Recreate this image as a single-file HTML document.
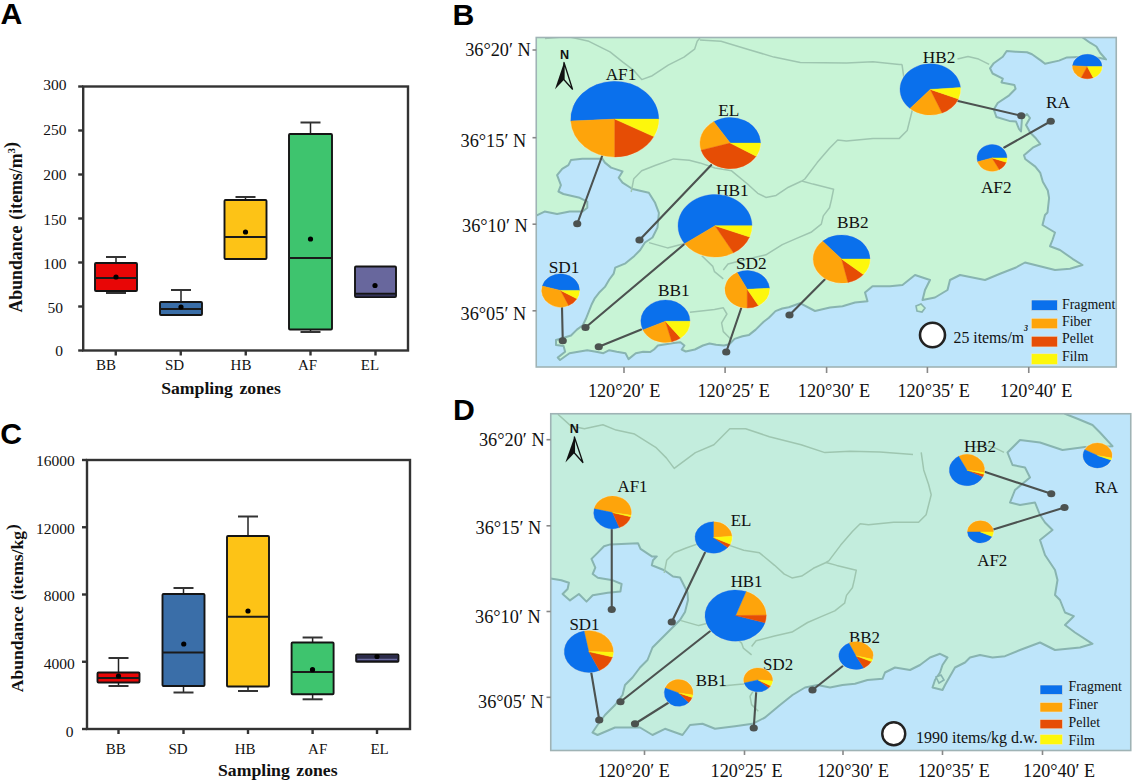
<!DOCTYPE html>
<html><head><meta charset="utf-8"><style>
html,body{margin:0;padding:0;background:#fff;}
svg{display:block;}
</style></head><body>
<svg width="1135" height="780" viewBox="0 0 1135 780">
<rect width="1135" height="780" fill="#fff"/>
<rect x="83.20" y="86.50" width="324.80" height="264.00" fill="none" stroke="#333" stroke-width="2.4" />
<line x1="78.20" y1="350.50" x2="83.20" y2="350.50" stroke="#333" stroke-width="2.4" />
<text x="62.90" y="356.20" font-family='"Liberation Serif", serif' font-size="15.5" font-weight="normal" text-anchor="end" fill="#111" >0</text>
<line x1="78.20" y1="306.50" x2="83.20" y2="306.50" stroke="#333" stroke-width="2.4" />
<text x="63.00" y="312.80" font-family='"Liberation Serif", serif' font-size="15.5" font-weight="normal" text-anchor="end" fill="#111" >50</text>
<line x1="78.20" y1="262.50" x2="83.20" y2="262.50" stroke="#333" stroke-width="2.4" />
<text x="66.40" y="268.60" font-family='"Liberation Serif", serif' font-size="15.5" font-weight="normal" text-anchor="end" fill="#111" >100</text>
<line x1="78.20" y1="218.50" x2="83.20" y2="218.50" stroke="#333" stroke-width="2.4" />
<text x="66.40" y="224.60" font-family='"Liberation Serif", serif' font-size="15.5" font-weight="normal" text-anchor="end" fill="#111" >150</text>
<line x1="78.20" y1="174.50" x2="83.20" y2="174.50" stroke="#333" stroke-width="2.4" />
<text x="66.40" y="179.80" font-family='"Liberation Serif", serif' font-size="15.5" font-weight="normal" text-anchor="end" fill="#111" >200</text>
<line x1="78.20" y1="130.50" x2="83.20" y2="130.50" stroke="#333" stroke-width="2.4" />
<text x="66.40" y="134.90" font-family='"Liberation Serif", serif' font-size="15.5" font-weight="normal" text-anchor="end" fill="#111" >250</text>
<line x1="78.20" y1="86.50" x2="83.20" y2="86.50" stroke="#333" stroke-width="2.4" />
<text x="66.40" y="89.90" font-family='"Liberation Serif", serif' font-size="15.5" font-weight="normal" text-anchor="end" fill="#111" >300</text>
<line x1="115.75" y1="350.50" x2="115.75" y2="355.50" stroke="#333" stroke-width="2.4" />
<line x1="180.75" y1="350.50" x2="180.75" y2="355.50" stroke="#333" stroke-width="2.4" />
<line x1="245.75" y1="350.50" x2="245.75" y2="355.50" stroke="#333" stroke-width="2.4" />
<line x1="310.50" y1="350.50" x2="310.50" y2="355.50" stroke="#333" stroke-width="2.4" />
<line x1="375.50" y1="350.50" x2="375.50" y2="355.50" stroke="#333" stroke-width="2.4" />
<text x="106.00" y="370.20" font-family='"Liberation Serif", serif' font-size="15" font-weight="normal" text-anchor="middle" fill="#111" >BB</text>
<text x="174.50" y="370.20" font-family='"Liberation Serif", serif' font-size="15" font-weight="normal" text-anchor="middle" fill="#111" >SD</text>
<text x="241.00" y="370.20" font-family='"Liberation Serif", serif' font-size="15" font-weight="normal" text-anchor="middle" fill="#111" >HB</text>
<text x="307.50" y="370.20" font-family='"Liberation Serif", serif' font-size="15" font-weight="normal" text-anchor="middle" fill="#111" >AF</text>
<text x="370.00" y="370.20" font-family='"Liberation Serif", serif' font-size="15" font-weight="normal" text-anchor="middle" fill="#111" >EL</text>
<line x1="116.00" y1="257.00" x2="116.00" y2="263.00" stroke="#222" stroke-width="1.5" />
<line x1="106.00" y1="257.00" x2="126.00" y2="257.00" stroke="#333" stroke-width="2" />
<line x1="116.00" y1="291.00" x2="116.00" y2="293.00" stroke="#222" stroke-width="1.5" />
<line x1="106.00" y1="293.00" x2="126.00" y2="293.00" stroke="#333" stroke-width="2" />
<rect x="95.00" y="263.00" width="42.00" height="28.00" fill="#e80606" stroke="#141414" stroke-width="1.9" rx="1"/>
<line x1="95.00" y1="278.00" x2="137.00" y2="278.00" stroke="#1a1a1a" stroke-width="2" />
<circle cx="116.00" cy="277.00" r="2.6" fill="#000"/>
<line x1="181.00" y1="290.00" x2="181.00" y2="302.00" stroke="#222" stroke-width="1.5" />
<line x1="171.00" y1="290.00" x2="191.00" y2="290.00" stroke="#333" stroke-width="2" />
<rect x="160.00" y="302.00" width="42.00" height="13.00" fill="#3a6ea8" stroke="#141414" stroke-width="1.9" rx="1"/>
<line x1="160.00" y1="309.00" x2="202.00" y2="309.00" stroke="#1a1a1a" stroke-width="2" />
<circle cx="181.00" cy="307.00" r="2.6" fill="#000"/>
<line x1="245.50" y1="197.00" x2="245.50" y2="200.00" stroke="#222" stroke-width="1.5" />
<line x1="235.50" y1="197.00" x2="255.50" y2="197.00" stroke="#333" stroke-width="2" />
<rect x="224.50" y="200.00" width="42.00" height="59.00" fill="#fdc316" stroke="#141414" stroke-width="1.9" rx="1"/>
<line x1="224.50" y1="237.00" x2="266.50" y2="237.00" stroke="#1a1a1a" stroke-width="2" />
<circle cx="245.50" cy="232.00" r="2.6" fill="#000"/>
<line x1="310.50" y1="122.50" x2="310.50" y2="134.00" stroke="#222" stroke-width="1.5" />
<line x1="300.50" y1="122.50" x2="320.50" y2="122.50" stroke="#333" stroke-width="2" />
<line x1="310.50" y1="329.50" x2="310.50" y2="332.00" stroke="#222" stroke-width="1.5" />
<line x1="300.50" y1="332.00" x2="320.50" y2="332.00" stroke="#333" stroke-width="2" />
<rect x="289.00" y="134.00" width="43.00" height="195.50" fill="#3ec46e" stroke="#141414" stroke-width="1.9" rx="1"/>
<line x1="289.00" y1="258.00" x2="332.00" y2="258.00" stroke="#1a1a1a" stroke-width="2" />
<circle cx="310.50" cy="239.00" r="2.6" fill="#000"/>
<rect x="355.00" y="266.50" width="41.00" height="30.50" fill="#68679d" stroke="#141414" stroke-width="1.9" rx="1"/>
<circle cx="375.00" cy="285.50" r="2.6" fill="#000"/>
<rect x="355.80" y="293.20" width="39.40" height="3.20" fill="#34345a" stroke="none" stroke-width="1" />
<line x1="355.00" y1="293.60" x2="396.00" y2="293.60" stroke="#141414" stroke-width="1.6" />
<text x="161.2" y="394" font-family='"Liberation Serif", serif' font-size="17.7" font-weight="bold" fill="#111">Sampling</text>
<text x="239.5" y="394" font-family='"Liberation Serif", serif' font-size="17.7" font-weight="bold" fill="#111">zones</text>
<text transform="translate(22.3,312.6) rotate(-90)" font-family='"Liberation Serif", serif' font-size="17.8" font-weight="bold" fill="#111">Abundance<tspan dx="6">(items/m</tspan><tspan font-size="11" dy="-7">3</tspan><tspan dy="1.5">)</tspan></text>
<rect x="87.00" y="460.00" width="323.00" height="269.00" fill="none" stroke="#333" stroke-width="2.4" />
<line x1="82.00" y1="729.00" x2="87.00" y2="729.00" stroke="#333" stroke-width="2.4" />
<text x="73.50" y="736.80" font-family='"Liberation Serif", serif' font-size="15.5" font-weight="normal" text-anchor="end" fill="#111" >0</text>
<line x1="82.00" y1="661.75" x2="87.00" y2="661.75" stroke="#333" stroke-width="2.4" />
<text x="74.80" y="669.10" font-family='"Liberation Serif", serif' font-size="15.5" font-weight="normal" text-anchor="end" fill="#111" >4000</text>
<line x1="82.00" y1="594.50" x2="87.00" y2="594.50" stroke="#333" stroke-width="2.4" />
<text x="74.80" y="601.40" font-family='"Liberation Serif", serif' font-size="15.5" font-weight="normal" text-anchor="end" fill="#111" >8000</text>
<line x1="82.00" y1="527.25" x2="87.00" y2="527.25" stroke="#333" stroke-width="2.4" />
<text x="74.80" y="533.70" font-family='"Liberation Serif", serif' font-size="15.5" font-weight="normal" text-anchor="end" fill="#111" >12000</text>
<line x1="82.00" y1="460.00" x2="87.00" y2="460.00" stroke="#333" stroke-width="2.4" />
<text x="74.80" y="466.00" font-family='"Liberation Serif", serif' font-size="15.5" font-weight="normal" text-anchor="end" fill="#111" >16000</text>
<line x1="118.50" y1="729.00" x2="118.50" y2="734.00" stroke="#333" stroke-width="2.4" />
<line x1="183.50" y1="729.00" x2="183.50" y2="734.00" stroke="#333" stroke-width="2.4" />
<line x1="248.00" y1="729.00" x2="248.00" y2="734.00" stroke="#333" stroke-width="2.4" />
<line x1="312.60" y1="729.00" x2="312.60" y2="734.00" stroke="#333" stroke-width="2.4" />
<line x1="377.00" y1="729.00" x2="377.00" y2="734.00" stroke="#333" stroke-width="2.4" />
<text x="115.75" y="754.20" font-family='"Liberation Serif", serif' font-size="15" font-weight="normal" text-anchor="middle" fill="#111" >BB</text>
<text x="178.00" y="754.20" font-family='"Liberation Serif", serif' font-size="15" font-weight="normal" text-anchor="middle" fill="#111" >SD</text>
<text x="245.20" y="754.20" font-family='"Liberation Serif", serif' font-size="15" font-weight="normal" text-anchor="middle" fill="#111" >HB</text>
<text x="317.70" y="754.20" font-family='"Liberation Serif", serif' font-size="15" font-weight="normal" text-anchor="middle" fill="#111" >AF</text>
<text x="379.60" y="754.20" font-family='"Liberation Serif", serif' font-size="15" font-weight="normal" text-anchor="middle" fill="#111" >EL</text>
<line x1="118.50" y1="658.00" x2="118.50" y2="672.50" stroke="#222" stroke-width="1.5" />
<line x1="108.50" y1="658.00" x2="128.50" y2="658.00" stroke="#333" stroke-width="2" />
<line x1="118.50" y1="682.50" x2="118.50" y2="686.00" stroke="#222" stroke-width="1.5" />
<line x1="108.50" y1="686.00" x2="128.50" y2="686.00" stroke="#333" stroke-width="2" />
<rect x="97.50" y="672.50" width="42.00" height="10.00" fill="#e80606" stroke="#141414" stroke-width="1.9" rx="1"/>
<line x1="97.50" y1="678.00" x2="139.50" y2="678.00" stroke="#1a1a1a" stroke-width="2" />
<circle cx="118.50" cy="676.00" r="2.6" fill="#000"/>
<line x1="183.50" y1="588.00" x2="183.50" y2="594.00" stroke="#222" stroke-width="1.5" />
<line x1="173.50" y1="588.00" x2="193.50" y2="588.00" stroke="#333" stroke-width="2" />
<line x1="183.50" y1="686.00" x2="183.50" y2="692.50" stroke="#222" stroke-width="1.5" />
<line x1="173.50" y1="692.50" x2="193.50" y2="692.50" stroke="#333" stroke-width="2" />
<rect x="162.50" y="594.00" width="42.00" height="92.00" fill="#3a6ea8" stroke="#141414" stroke-width="1.9" rx="1"/>
<line x1="162.50" y1="652.50" x2="204.50" y2="652.50" stroke="#1a1a1a" stroke-width="2" />
<circle cx="183.75" cy="644.00" r="2.6" fill="#000"/>
<line x1="248.00" y1="516.50" x2="248.00" y2="536.00" stroke="#222" stroke-width="1.5" />
<line x1="238.00" y1="516.50" x2="258.00" y2="516.50" stroke="#333" stroke-width="2" />
<line x1="248.00" y1="686.50" x2="248.00" y2="691.00" stroke="#222" stroke-width="1.5" />
<line x1="238.00" y1="691.00" x2="258.00" y2="691.00" stroke="#333" stroke-width="2" />
<rect x="227.00" y="536.00" width="42.00" height="150.50" fill="#fdc316" stroke="#141414" stroke-width="1.9" rx="1"/>
<line x1="227.00" y1="616.75" x2="269.00" y2="616.75" stroke="#1a1a1a" stroke-width="2" />
<circle cx="248.00" cy="611.00" r="2.6" fill="#000"/>
<line x1="312.60" y1="637.50" x2="312.60" y2="642.50" stroke="#222" stroke-width="1.5" />
<line x1="302.60" y1="637.50" x2="322.60" y2="637.50" stroke="#333" stroke-width="2" />
<line x1="312.60" y1="694.20" x2="312.60" y2="699.30" stroke="#222" stroke-width="1.5" />
<line x1="302.60" y1="699.30" x2="322.60" y2="699.30" stroke="#333" stroke-width="2" />
<rect x="291.60" y="642.50" width="42.00" height="51.70" fill="#3ec46e" stroke="#141414" stroke-width="1.9" rx="1"/>
<line x1="291.60" y1="672.00" x2="333.60" y2="672.00" stroke="#1a1a1a" stroke-width="2" />
<circle cx="312.50" cy="669.70" r="2.6" fill="#000"/>
<rect x="356.00" y="654.30" width="42.60" height="7.60" fill="#2c2c4a" stroke="#141414" stroke-width="1.6" rx="1"/>
<line x1="357.50" y1="659.30" x2="397.00" y2="659.30" stroke="#6c6ca0" stroke-width="1.3" />
<circle cx="377" cy="656.5" r="2.6" fill="#000"/>
<text x="218" y="776" font-family='"Liberation Serif", serif' font-size="17.7" font-weight="bold" fill="#111">Sampling</text>
<text x="296.3" y="776" font-family='"Liberation Serif", serif' font-size="17.7" font-weight="bold" fill="#111">zones</text>
<text transform="translate(23,692.3) rotate(-90)" font-family='"Liberation Serif", serif' font-size="17.6" font-weight="bold" fill="#111">Abundance<tspan dx="6">(items/kg</tspan><tspan dx="0.8" dy="-5.5">)</tspan></text>
<text x="0.5" y="24.4" font-family='"Liberation Sans", sans-serif' font-size="28" font-weight="bold" fill="#000" transform="translate(0.5,24.4) scale(1.08,1.04) translate(-0.5,-24.4)">A</text>
<text x="452.5" y="24.5" font-family='"Liberation Sans", sans-serif' font-size="28" font-weight="bold" fill="#000" transform="translate(452.5,24.5) scale(1.08,1.04) translate(-452.5,-24.5)">B</text>
<text x="0.3" y="444.4" font-family='"Liberation Sans", sans-serif' font-size="28" font-weight="bold" fill="#000" transform="translate(0.3,444.4) scale(1.08,1.04) translate(-0.3,-444.4)">C</text>
<text x="453" y="420.3" font-family='"Liberation Sans", sans-serif' font-size="28" font-weight="bold" fill="#000" transform="translate(453,420.3) scale(1.08,1.04) translate(-453,-420.3)">D</text>
<clipPath id="cb"><rect x="536.25" y="37.5" width="580.0" height="329.5"/></clipPath>
<g clip-path="url(#cb)">
<rect x="536.25" y="37.50" width="580.00" height="329.50" fill="#c8f4d6" stroke="none" stroke-width="1" />
<polygon points="1040.0,10.0 1052.0,24.0 1064.5,29.0 1080.0,35.5 1090.0,42.7 1096.4,46.5 1100.3,53.0 1106.0,59.4 1100.0,58.0 1090.0,57.0 1080.0,57.0 1067.0,57.4 1059.0,60.6 1045.0,63.8 1041.0,60.6 1032.0,54.2 1027.0,52.3 1015.6,51.7 1006.7,51.0 1002.8,56.8 993.8,63.2 990.0,68.3 992.6,73.5 1002.8,78.6 1001.5,82.4 1014.4,85.0 1015.6,88.8 1009.2,95.3 997.7,103.0 993.8,109.4 996.4,117.0 1009.2,120.9 1016.0,121.5 1019.0,129.0 1021.0,131.5 1022.0,118.0 1027.0,114.0 1030.0,118.0 1026.0,125.0 1030.3,132.7 1035.3,137.7 1040.3,144.0 1032.8,147.7 1024.0,155.3 1025.2,159.0 1035.3,166.6 1040.3,172.9 1042.8,181.7 1047.8,190.5 1049.1,198.0 1047.5,212.5 1045.0,215.0 1042.5,225.0 1055.0,232.5 1052.5,240.0 1050.0,246.2 1060.0,250.0 1072.5,258.8 1082.5,265.0 1070.0,268.8 1055.0,270.0 1040.0,266.2 1025.0,262.5 1016.0,267.5 1000.0,273.8 985.0,280.0 972.5,277.5 960.0,275.0 950.0,280.0 947.5,290.0 935.0,297.5 922.5,300.0 925.0,290.0 930.0,280.0 915.0,275.0 902.5,285.0 890.0,286.2 872.5,286.2 865.0,292.5 867.5,301.2 855.0,302.5 842.5,306.2 830.0,307.5 815.0,311.0 800.0,303.2 788.8,307.2 782.2,308.5 775.5,311.1 768.9,317.8 763.7,321.7 755.7,329.6 749.1,334.9 742.5,336.3 734.6,338.9 729.3,344.2 724.0,345.5 716.1,344.8 709.5,343.5 702.9,345.5 694.9,349.5 685.7,351.5 681.7,349.5 684.4,345.5 680.4,342.2 673.8,342.9 665.9,344.2 657.9,345.5 654.0,349.5 650.0,352.1 643.2,351.7 635.8,353.2 628.5,359.1 625.5,353.2 616.7,351.7 609.3,350.2 603.4,353.2 596.0,351.7 587.2,350.2 578.3,351.7 569.5,353.2 560.0,360.0 557.7,357.6 565.1,351.7 563.6,346.0 556.0,345.0 556.0,340.0 563.0,338.0 571.0,335.5 576.9,329.6 582.8,325.2 585.7,319.3 588.7,311.9 591.6,304.5 594.5,298.7 599.0,292.8 604.9,286.9 609.3,279.5 613.7,273.6 615.2,267.7 625.5,263.3 634.4,255.9 640.2,250.0 645.0,242.5 652.5,237.5 657.5,227.5 658.9,212.9 655.1,202.8 648.8,192.8 632.5,189.0 622.5,182.7 618.7,177.7 622.5,171.4 611.1,167.6 604.9,162.6 602.4,158.8 582.3,158.8 570.9,160.1 568.4,165.1 562.2,168.9 557.1,175.2 560.9,185.2 558.4,191.5 563.4,194.0 579.7,197.8 587.3,201.6 587.3,207.8 582.3,211.6 569.7,211.6 557.1,214.1 544.6,211.6 536.8,215.4 520.0,214.0 520.0,380.0 1130.0,380.0 1130.0,10.0" fill="#bee5fb" stroke="#88b4b0" stroke-width="2" stroke-linejoin="round"/>
<polygon points="916.0,306.0 921.0,304.0 925.0,308.0 922.0,312.0 917.0,311.0" fill="#c8f4d6" stroke="#88b4b0" stroke-width="1.6"/>
<polyline points="545.0,38.5 567.7,36.5 588.9,41.3 610.0,51.9 623.2,62.4 633.8,70.4 641.7,79.6 652.3,75.7 668.2,65.1 684.0,57.1 694.6,49.2 697.2,41.3 699.9,38.0" fill="none" stroke="#9ec6b0" stroke-width="1.5" stroke-linejoin="round"/>
<polyline points="699.9,40.0 721.0,41.3 747.5,49.2 773.9,57.1 800.3,62.4 846.4,63.0 872.9,61.7 899.3,64.4 902.0,64.4" fill="none" stroke="#9ec6b0" stroke-width="1.5" stroke-linejoin="round"/>
<polyline points="957.5,59.1 968.0,56.4 978.6,59.1 989.2,64.4" fill="none" stroke="#9ec6b0" stroke-width="1.5" stroke-linejoin="round"/>
<polyline points="631.2,192.0 633.8,178.7 641.7,170.8 655.0,165.5 673.5,158.9 689.3,160.2 699.9,162.9 715.0,168.0 731.6,170.8 747.5,184.0 757.7,193.3 765.9,197.4 776.1,195.4 788.4,187.2 801.8,181.0" fill="none" stroke="#9ec6b0" stroke-width="1.5" stroke-linejoin="round"/>
<polyline points="902.0,64.4 904.6,82.9 909.9,98.7 912.5,109.3 907.2,130.5 899.3,138.4 872.9,138.4 846.4,141.0 837.7,140.0 829.5,148.2 817.2,162.6 804.8,179.0 801.8,181.0" fill="none" stroke="#9ec6b0" stroke-width="1.5" stroke-linejoin="round"/>
<polyline points="801.8,181.0 813.0,184.1 833.6,189.2 831.5,199.5 829.5,207.7 823.3,215.9 821.3,224.1 811.0,232.3 796.6,238.4 782.3,244.6 765.9,254.8 747.4,259.0 728.0,264.0 723.3,270.0" fill="none" stroke="#9ec6b0" stroke-width="1.5" stroke-linejoin="round"/>
<polyline points="649.0,242.6 667.5,247.9 688.6,242.6" fill="none" stroke="#9ec6b0" stroke-width="1.5" stroke-linejoin="round"/>
<polyline points="701.8,255.8 712.8,266.4 714.5,271.7 723.3,278.8" fill="none" stroke="#9ec6b0" stroke-width="1.5" stroke-linejoin="round"/>
<polyline points="689.9,312.2 705.7,310.5 714.5,309.6 723.3,307.8 726.9,314.0 721.6,322.8 723.3,331.6 730.4,338.7" fill="none" stroke="#9ec6b0" stroke-width="1.5" stroke-linejoin="round"/>
</g>
<rect x="536.25" y="37.50" width="580.00" height="329.50" fill="none" stroke="#9fb3b5" stroke-width="1.6" />
<line x1="602.50" y1="155.00" x2="577.25" y2="223.75" stroke="#4c5250" stroke-width="2.1" stroke-linecap="round"/>
<ellipse cx="577.25" cy="223.75" rx="4.1" ry="3.5" fill="#4c5250"/>
<line x1="711.25" y1="165.00" x2="639.50" y2="240.00" stroke="#4c5250" stroke-width="2.1" stroke-linecap="round"/>
<ellipse cx="639.50" cy="240.00" rx="4.1" ry="3.5" fill="#4c5250"/>
<line x1="686.25" y1="242.50" x2="585.50" y2="327.50" stroke="#4c5250" stroke-width="2.1" stroke-linecap="round"/>
<ellipse cx="585.50" cy="327.50" rx="4.1" ry="3.5" fill="#4c5250"/>
<line x1="562.00" y1="307.00" x2="562.75" y2="340.75" stroke="#4c5250" stroke-width="2.1" stroke-linecap="round"/>
<ellipse cx="562.75" cy="340.75" rx="4.1" ry="3.5" fill="#4c5250"/>
<line x1="641.25" y1="329.50" x2="598.75" y2="346.75" stroke="#4c5250" stroke-width="2.1" stroke-linecap="round"/>
<ellipse cx="598.75" cy="346.75" rx="4.1" ry="3.5" fill="#4c5250"/>
<line x1="741.25" y1="308.00" x2="726.25" y2="352.00" stroke="#4c5250" stroke-width="2.1" stroke-linecap="round"/>
<ellipse cx="726.25" cy="352.00" rx="4.1" ry="3.5" fill="#4c5250"/>
<line x1="825.50" y1="278.75" x2="789.50" y2="315.00" stroke="#4c5250" stroke-width="2.1" stroke-linecap="round"/>
<ellipse cx="789.50" cy="315.00" rx="4.1" ry="3.5" fill="#4c5250"/>
<line x1="953.75" y1="100.00" x2="1021.25" y2="115.75" stroke="#4c5250" stroke-width="2.1" stroke-linecap="round"/>
<ellipse cx="1021.25" cy="115.75" rx="4.1" ry="3.5" fill="#4c5250"/>
<line x1="1004.25" y1="147.50" x2="1050.75" y2="121.25" stroke="#4c5250" stroke-width="2.1" stroke-linecap="round"/>
<ellipse cx="1050.75" cy="121.25" rx="4.1" ry="3.5" fill="#4c5250"/>
<text x="621.00" y="79.50" font-family='"Liberation Serif", serif' font-size="17.3" font-weight="normal" text-anchor="middle" fill="#111" >AF1</text>
<text x="728.75" y="115.75" font-family='"Liberation Serif", serif' font-size="17.3" font-weight="normal" text-anchor="middle" fill="#111" >EL</text>
<text x="732.25" y="196.25" font-family='"Liberation Serif", serif' font-size="17.3" font-weight="normal" text-anchor="middle" fill="#111" >HB1</text>
<text x="564.00" y="273.00" font-family='"Liberation Serif", serif' font-size="17.3" font-weight="normal" text-anchor="middle" fill="#111" >SD1</text>
<text x="673.75" y="295.75" font-family='"Liberation Serif", serif' font-size="17.3" font-weight="normal" text-anchor="middle" fill="#111" >BB1</text>
<text x="751.25" y="268.75" font-family='"Liberation Serif", serif' font-size="17.3" font-weight="normal" text-anchor="middle" fill="#111" >SD2</text>
<text x="852.90" y="228.00" font-family='"Liberation Serif", serif' font-size="17.3" font-weight="normal" text-anchor="middle" fill="#111" >BB2</text>
<text x="939.00" y="62.50" font-family='"Liberation Serif", serif' font-size="17.3" font-weight="normal" text-anchor="middle" fill="#111" >HB2</text>
<text x="1057.90" y="108.00" font-family='"Liberation Serif", serif' font-size="17.3" font-weight="normal" text-anchor="middle" fill="#111" >RA</text>
<text x="996.25" y="193.00" font-family='"Liberation Serif", serif' font-size="17.3" font-weight="normal" text-anchor="middle" fill="#111" >AF2</text>
<ellipse cx="614.75" cy="119.10" rx="44.60" ry="38.50" fill="#fff3d6" opacity="0.7"/>
<path d="M614.75,119.10 L658.75,119.10 A44.00,37.90 0 1 0 570.81,121.08 Z" fill="#0a70ec" stroke="#0a70ec" stroke-width="0.4" stroke-linejoin="round"/>
<path d="M614.75,119.10 L570.81,121.08 A44.00,37.90 0 0 0 614.75,157.00 Z" fill="#fea40b" stroke="#fea40b" stroke-width="0.4" stroke-linejoin="round"/>
<path d="M614.75,119.10 L614.75,157.00 A44.00,37.90 0 0 0 653.78,136.60 Z" fill="#e64d05" stroke="#e64d05" stroke-width="0.4" stroke-linejoin="round"/>
<path d="M614.75,119.10 L653.78,136.60 A44.00,37.90 0 0 0 658.75,119.10 Z" fill="#fdf70c" stroke="#fdf70c" stroke-width="0.4" stroke-linejoin="round"/>
<ellipse cx="730.25" cy="143.10" rx="30.85" ry="26.20" fill="#fff3d6" opacity="0.7"/>
<path d="M730.25,143.10 L760.50,143.10 A30.25,25.60 0 0 0 713.77,121.63 Z" fill="#0a70ec" stroke="#0a70ec" stroke-width="0.4" stroke-linejoin="round"/>
<path d="M730.25,143.10 L713.77,121.63 A30.25,25.60 0 0 0 701.17,150.16 Z" fill="#fea40b" stroke="#fea40b" stroke-width="0.4" stroke-linejoin="round"/>
<path d="M730.25,143.10 L701.17,150.16 A30.25,25.60 0 0 0 756.18,156.28 Z" fill="#e64d05" stroke="#e64d05" stroke-width="0.4" stroke-linejoin="round"/>
<path d="M730.25,143.10 L756.18,156.28 A30.25,25.60 0 0 0 760.50,143.10 Z" fill="#fdf70c" stroke="#fdf70c" stroke-width="0.4" stroke-linejoin="round"/>
<ellipse cx="715.00" cy="225.75" rx="37.60" ry="31.85" fill="#fff3d6" opacity="0.7"/>
<path d="M715.00,225.75 L752.00,225.75 A37.00,31.25 0 1 0 684.69,243.67 Z" fill="#0a70ec" stroke="#0a70ec" stroke-width="0.4" stroke-linejoin="round"/>
<path d="M715.00,225.75 L684.69,243.67 A37.00,31.25 0 0 0 733.50,252.81 Z" fill="#fea40b" stroke="#fea40b" stroke-width="0.4" stroke-linejoin="round"/>
<path d="M715.00,225.75 L733.50,252.81 A37.00,31.25 0 0 0 749.54,236.95 Z" fill="#e64d05" stroke="#e64d05" stroke-width="0.4" stroke-linejoin="round"/>
<path d="M715.00,225.75 L749.54,236.95 A37.00,31.25 0 0 0 752.00,225.75 Z" fill="#fdf70c" stroke="#fdf70c" stroke-width="0.4" stroke-linejoin="round"/>
<ellipse cx="560.60" cy="290.40" rx="19.50" ry="17.20" fill="#fff3d6" opacity="0.7"/>
<path d="M560.60,290.40 L579.50,290.40 A18.90,16.60 0 0 0 542.34,286.10 Z" fill="#0a70ec" stroke="#0a70ec" stroke-width="0.4" stroke-linejoin="round"/>
<path d="M560.60,290.40 L542.34,286.10 A18.90,16.60 0 0 0 568.59,305.44 Z" fill="#fea40b" stroke="#fea40b" stroke-width="0.4" stroke-linejoin="round"/>
<path d="M560.60,290.40 L568.59,305.44 A18.90,16.60 0 0 0 576.97,298.70 Z" fill="#e64d05" stroke="#e64d05" stroke-width="0.4" stroke-linejoin="round"/>
<path d="M560.60,290.40 L576.97,298.70 A18.90,16.60 0 0 0 579.50,290.40 Z" fill="#fdf70c" stroke="#fdf70c" stroke-width="0.4" stroke-linejoin="round"/>
<ellipse cx="665.40" cy="321.25" rx="25.20" ry="21.85" fill="#fff3d6" opacity="0.7"/>
<path d="M665.40,321.25 L690.00,321.25 A24.60,21.25 0 1 0 642.93,329.89 Z" fill="#0a70ec" stroke="#0a70ec" stroke-width="0.4" stroke-linejoin="round"/>
<path d="M665.40,321.25 L642.93,329.89 A24.60,21.25 0 0 0 671.77,341.78 Z" fill="#fea40b" stroke="#fea40b" stroke-width="0.4" stroke-linejoin="round"/>
<path d="M665.40,321.25 L671.77,341.78 A24.60,21.25 0 0 0 680.55,338.00 Z" fill="#e64d05" stroke="#e64d05" stroke-width="0.4" stroke-linejoin="round"/>
<path d="M665.40,321.25 L680.55,338.00 A24.60,21.25 0 0 0 690.00,321.25 Z" fill="#fdf70c" stroke="#fdf70c" stroke-width="0.4" stroke-linejoin="round"/>
<ellipse cx="747.25" cy="289.25" rx="22.85" ry="19.35" fill="#fff3d6" opacity="0.7"/>
<path d="M747.25,289.25 L769.47,288.27 A22.25,18.75 0 0 0 737.15,272.54 Z" fill="#0a70ec" stroke="#0a70ec" stroke-width="0.4" stroke-linejoin="round"/>
<path d="M747.25,289.25 L737.15,272.54 A22.25,18.75 0 0 0 747.25,308.00 Z" fill="#fea40b" stroke="#fea40b" stroke-width="0.4" stroke-linejoin="round"/>
<path d="M747.25,289.25 L747.25,308.00 A22.25,18.75 0 0 0 758.38,305.49 Z" fill="#e64d05" stroke="#e64d05" stroke-width="0.4" stroke-linejoin="round"/>
<path d="M747.25,289.25 L758.38,305.49 A22.25,18.75 0 0 0 769.47,288.27 Z" fill="#fdf70c" stroke="#fdf70c" stroke-width="0.4" stroke-linejoin="round"/>
<ellipse cx="841.60" cy="259.00" rx="29.00" ry="24.60" fill="#fff3d6" opacity="0.7"/>
<path d="M841.60,259.00 L870.00,259.00 A28.40,24.00 0 0 0 822.60,241.16 Z" fill="#0a70ec" stroke="#0a70ec" stroke-width="0.4" stroke-linejoin="round"/>
<path d="M841.60,259.00 L822.60,241.16 A28.40,24.00 0 0 0 847.99,282.38 Z" fill="#fea40b" stroke="#fea40b" stroke-width="0.4" stroke-linejoin="round"/>
<path d="M841.60,259.00 L847.99,282.38 A28.40,24.00 0 0 0 863.36,274.43 Z" fill="#e64d05" stroke="#e64d05" stroke-width="0.4" stroke-linejoin="round"/>
<path d="M841.60,259.00 L863.36,274.43 A28.40,24.00 0 0 0 870.00,259.00 Z" fill="#fdf70c" stroke="#fdf70c" stroke-width="0.4" stroke-linejoin="round"/>
<ellipse cx="930.25" cy="89.40" rx="30.85" ry="26.20" fill="#fff3d6" opacity="0.7"/>
<path d="M930.25,89.40 L960.43,87.61 A30.25,25.60 0 1 0 910.01,108.42 Z" fill="#0a70ec" stroke="#0a70ec" stroke-width="0.4" stroke-linejoin="round"/>
<path d="M930.25,89.40 L910.01,108.42 A30.25,25.60 0 0 0 942.07,112.96 Z" fill="#fea40b" stroke="#fea40b" stroke-width="0.4" stroke-linejoin="round"/>
<path d="M930.25,89.40 L942.07,112.96 A30.25,25.60 0 0 0 958.30,98.99 Z" fill="#e64d05" stroke="#e64d05" stroke-width="0.4" stroke-linejoin="round"/>
<path d="M930.25,89.40 L958.30,98.99 A30.25,25.60 0 0 0 960.43,87.61 Z" fill="#fdf70c" stroke="#fdf70c" stroke-width="0.4" stroke-linejoin="round"/>
<ellipse cx="992.00" cy="157.90" rx="15.60" ry="14.00" fill="#fff3d6" opacity="0.7"/>
<path d="M992.00,157.90 L1007.00,157.90 A15.00,13.40 0 1 0 977.66,161.82 Z" fill="#0a70ec" stroke="#0a70ec" stroke-width="0.4" stroke-linejoin="round"/>
<path d="M992.00,157.90 L977.66,161.82 A15.00,13.40 0 0 0 999.27,169.62 Z" fill="#fea40b" stroke="#fea40b" stroke-width="0.4" stroke-linejoin="round"/>
<path d="M992.00,157.90 L999.27,169.62 A15.00,13.40 0 0 0 1006.18,162.26 Z" fill="#e64d05" stroke="#e64d05" stroke-width="0.4" stroke-linejoin="round"/>
<path d="M992.00,157.90 L1006.18,162.26 A15.00,13.40 0 0 0 1007.00,157.90 Z" fill="#fdf70c" stroke="#fdf70c" stroke-width="0.4" stroke-linejoin="round"/>
<ellipse cx="1087.25" cy="66.50" rx="15.35" ry="12.85" fill="#fff3d6" opacity="0.7"/>
<path d="M1087.25,66.50 L1102.00,66.50 A14.75,12.25 0 0 0 1072.54,65.65 Z" fill="#0a70ec" stroke="#0a70ec" stroke-width="0.4" stroke-linejoin="round"/>
<path d="M1087.25,66.50 L1072.54,65.65 A14.75,12.25 0 0 0 1081.25,77.69 Z" fill="#fea40b" stroke="#fea40b" stroke-width="0.4" stroke-linejoin="round"/>
<path d="M1087.25,66.50 L1081.25,77.69 A14.75,12.25 0 0 0 1093.25,77.69 Z" fill="#e64d05" stroke="#e64d05" stroke-width="0.4" stroke-linejoin="round"/>
<path d="M1087.25,66.50 L1093.25,77.69 A14.75,12.25 0 0 0 1102.00,66.50 Z" fill="#fdf70c" stroke="#fdf70c" stroke-width="0.4" stroke-linejoin="round"/>
<text x="564.5" y="59.5" font-family='"Liberation Sans", sans-serif' font-size="11.5" font-weight="bold" text-anchor="middle" fill="#111" transform="translate(564.5,59.5) scale(1.1,1.05) translate(-564.5,-59.5)">N</text>
<polygon points="564.0,62.5 555.0,89.2 564.0,79.7" fill="#111"/>
<polygon points="564.0,62.5 572.5,89.2 564.0,79.7" fill="none" stroke="#111" stroke-width="1.3" stroke-linejoin="round"/>
<rect x="1031.25" y="300" width="26.25" height="10.5" fill="#0a70ec" stroke="#e8e8d8" stroke-width="0.6"/>
<text x="1062.00" y="308.75" font-family='"Liberation Serif", serif' font-size="13.9" font-weight="normal" text-anchor="start" fill="#111" >Fragment</text>
<rect x="1031.25" y="318.25" width="26.25" height="10.5" fill="#fea40b" stroke="#e8e8d8" stroke-width="0.6"/>
<text x="1062.00" y="325.50" font-family='"Liberation Serif", serif' font-size="13.9" font-weight="normal" text-anchor="start" fill="#111" >Fiber</text>
<rect x="1031.25" y="336.25" width="26.25" height="10.7" fill="#e64d05" stroke="#e8e8d8" stroke-width="0.6"/>
<text x="1062.00" y="343.00" font-family='"Liberation Serif", serif' font-size="13.9" font-weight="normal" text-anchor="start" fill="#111" >Pellet</text>
<rect x="1031.25" y="353.75" width="26.25" height="10.7" fill="#fdf70c" stroke="#e8e8d8" stroke-width="0.6"/>
<text x="1062.00" y="361.25" font-family='"Liberation Serif", serif' font-size="13.9" font-weight="normal" text-anchor="start" fill="#111" >Film</text>
<ellipse cx="932.5" cy="335" rx="12.5" ry="12.2" fill="#fff" stroke="#222" stroke-width="2.6"/>
<text x="953.50" y="343.00" font-family='"Liberation Serif", serif' font-size="15.8" font-weight="normal" text-anchor="start" fill="#111" >25 items/m</text>
<text x="1024" y="331" font-family='"Liberation Serif", serif' font-size="8" font-weight="bold" font-style="italic" fill="#111">3</text>
<line x1="532.50" y1="50.00" x2="536.25" y2="50.00" stroke="#888" stroke-width="1.6" />
<line x1="532.50" y1="137.70" x2="536.25" y2="137.70" stroke="#888" stroke-width="1.6" />
<line x1="532.50" y1="224.20" x2="536.25" y2="224.20" stroke="#888" stroke-width="1.6" />
<line x1="532.50" y1="310.80" x2="536.25" y2="310.80" stroke="#888" stroke-width="1.6" />
<text x="530.80" y="56.20" font-family='"Liberation Serif", serif' font-size="18.3" font-weight="normal" text-anchor="end" fill="#111" >36°20′ N</text>
<text x="526.20" y="146.90" font-family='"Liberation Serif", serif' font-size="18.3" font-weight="normal" text-anchor="end" fill="#111" >36°15′ N</text>
<text x="527.70" y="232.00" font-family='"Liberation Serif", serif' font-size="18.3" font-weight="normal" text-anchor="end" fill="#111" >36°10′ N</text>
<text x="526.20" y="320.30" font-family='"Liberation Serif", serif' font-size="18.3" font-weight="normal" text-anchor="end" fill="#111" >36°05′ N</text>
<line x1="624.00" y1="367.00" x2="624.00" y2="373.00" stroke="#888" stroke-width="1.6" />
<line x1="725.10" y1="367.00" x2="725.10" y2="373.00" stroke="#888" stroke-width="1.6" />
<line x1="826.60" y1="367.00" x2="826.60" y2="373.00" stroke="#888" stroke-width="1.6" />
<line x1="927.40" y1="367.00" x2="927.40" y2="373.00" stroke="#888" stroke-width="1.6" />
<line x1="1028.75" y1="367.00" x2="1028.75" y2="373.00" stroke="#888" stroke-width="1.6" />
<text x="624.10" y="397.30" font-family='"Liberation Serif", serif' font-size="18.2" font-weight="normal" text-anchor="middle" fill="#111" >120°20′ E</text>
<text x="733.60" y="397.30" font-family='"Liberation Serif", serif' font-size="18.2" font-weight="normal" text-anchor="middle" fill="#111" >120°25′ E</text>
<text x="834.00" y="397.30" font-family='"Liberation Serif", serif' font-size="18.2" font-weight="normal" text-anchor="middle" fill="#111" >120°30′ E</text>
<text x="933.60" y="397.30" font-family='"Liberation Serif", serif' font-size="18.2" font-weight="normal" text-anchor="middle" fill="#111" >120°35′ E</text>
<text x="1036.30" y="397.30" font-family='"Liberation Serif", serif' font-size="18.2" font-weight="normal" text-anchor="middle" fill="#111" >120°40′ E</text>
<clipPath id="cd"><rect x="550.75" y="413.75" width="580.0" height="336.75"/></clipPath>
<g clip-path="url(#cd)">
<rect x="550.75" y="413.75" width="580.00" height="336.75" fill="#c3eddd" stroke="none" stroke-width="1" />
<polygon points="1060.0,400.0 1065.0,413.8 1077.5,418.8 1092.5,425.0 1100.0,432.5 1112.5,446.2 1085.0,447.0 1062.5,450.0 1040.0,442.5 1020.0,440.0 1007.5,452.5 1012.5,465.0 1025.0,467.5 1030.0,477.5 1015.0,490.0 1010.0,502.5 1020.0,505.0 1035.0,502.5 1040.0,515.0 1045.0,522.5 1052.5,530.0 1040.0,540.0 1045.0,555.0 1055.0,570.0 1057.5,580.0 1055.0,595.0 1060.0,600.0 1065.0,612.5 1073.8,616.2 1065.0,625.0 1075.0,632.5 1092.5,643.8 1080.0,647.5 1055.0,650.0 1040.0,642.5 1020.0,650.0 1005.0,656.2 992.5,657.5 980.0,655.0 970.0,657.5 965.0,662.5 955.0,667.5 945.0,685.0 942.5,690.0 932.5,687.5 935.0,680.0 940.0,672.5 942.5,665.0 947.5,657.5 940.0,653.8 930.0,657.5 920.0,665.0 910.0,670.0 895.0,667.5 885.0,672.5 882.5,678.8 867.5,680.0 855.0,683.8 842.5,685.0 830.0,687.5 817.5,685.0 805.0,687.5 792.5,695.0 780.0,705.0 765.0,717.5 752.5,723.8 735.0,726.2 715.0,728.8 702.5,723.8 690.0,725.0 682.5,735.0 665.0,728.8 652.5,735.0 640.0,727.5 615.0,727.5 597.5,735.0 592.5,732.5 597.5,725.0 605.0,715.0 615.0,705.0 622.5,695.0 625.0,685.0 632.5,677.5 640.0,667.5 647.5,660.0 652.5,647.5 662.5,637.5 672.5,627.5 680.0,620.0 685.0,612.0 688.0,600.0 687.5,592.5 680.0,577.5 673.0,576.5 664.3,570.2 651.8,565.2 653.0,560.2 656.8,556.4 651.8,556.4 640.5,548.8 638.0,543.2 610.3,544.4 604.0,546.3 597.8,552.6 591.5,558.9 595.3,567.7 592.7,574.0 597.8,577.7 612.8,580.3 621.6,584.0 620.4,591.6 607.8,592.8 592.7,595.3 586.5,601.6 578.9,594.0 570.0,600.4 562.6,594.0 567.6,589.0 568.9,582.8 561.3,580.3 550.7,578.4 540.0,578.0 540.0,760.0 1140.0,760.0 1140.0,400.0" fill="#bee5fa" stroke="#88b4b0" stroke-width="2" stroke-linejoin="round"/>
<polygon points="936.0,677.0 941.0,675.0 944.0,680.0 939.0,683.0" fill="#c3eddd" stroke="#88b4b0" stroke-width="1.6"/>
<polyline points="557.9,414.3 571.1,426.1 584.4,428.8 602.9,424.8 616.1,430.1 634.6,434.1 655.7,447.3 666.3,457.9 674.2,468.4 695.4,452.6 713.9,444.7 729.8,428.8 745.6,428.8 769.4,436.7 801.1,444.7 824.9,452.6 850.0,451.3 880.0,452.0 913.0,454.5" fill="none" stroke="#9ec6b0" stroke-width="1.5" stroke-linejoin="round"/>
<polyline points="973.9,447.4 983.8,444.8 993.9,447.4 1004.0,452.4" fill="none" stroke="#9ec6b0" stroke-width="1.5" stroke-linejoin="round"/>
<polyline points="664.2,572.8 666.7,560.3 674.2,552.8 686.8,547.8 704.4,541.6 719.3,542.8 729.4,545.4 743.7,550.2 759.5,552.8 774.6,565.3 784.3,574.1 792.0,577.9 801.7,576.1 813.4,568.3 826.1,562.5" fill="none" stroke="#9ec6b0" stroke-width="1.5" stroke-linejoin="round"/>
<polyline points="921.2,452.4 923.7,469.9 928.7,484.8 931.2,494.8 926.1,514.8 918.6,522.2 893.6,522.2 868.4,524.7 860.2,523.8 852.4,531.5 840.7,545.1 829.0,560.6 826.1,562.5" fill="none" stroke="#9ec6b0" stroke-width="1.5" stroke-linejoin="round"/>
<polyline points="826.1,562.5 836.7,565.4 856.3,570.2 854.3,579.9 852.4,587.7 846.5,595.4 844.6,603.2 834.8,610.9 821.2,616.6 807.6,622.5 792.0,632.1 774.5,636.1 756.1,640.8 751.6,646.5" fill="none" stroke="#9ec6b0" stroke-width="1.5" stroke-linejoin="round"/>
<polyline points="681.1,620.6 698.7,625.6 718.7,620.6" fill="none" stroke="#9ec6b0" stroke-width="1.5" stroke-linejoin="round"/>
<polyline points="731.2,633.1 741.6,643.1 743.3,648.1 751.6,654.8" fill="none" stroke="#9ec6b0" stroke-width="1.5" stroke-linejoin="round"/>
<polyline points="719.9,686.3 734.9,684.7 743.3,683.9 751.6,682.2 755.0,688.0 750.0,696.3 751.6,704.6 758.3,711.3" fill="none" stroke="#9ec6b0" stroke-width="1.5" stroke-linejoin="round"/>
</g>
<rect x="550.75" y="413.75" width="580.00" height="336.75" fill="none" stroke="#9fb3b5" stroke-width="1.6" />
<line x1="611.75" y1="528.75" x2="611.75" y2="609.50" stroke="#4c5250" stroke-width="2.1" stroke-linecap="round"/>
<ellipse cx="611.75" cy="609.50" rx="4.1" ry="3.5" fill="#4c5250"/>
<line x1="705.00" y1="552.50" x2="671.75" y2="622.00" stroke="#4c5250" stroke-width="2.1" stroke-linecap="round"/>
<ellipse cx="671.75" cy="622.00" rx="4.1" ry="3.5" fill="#4c5250"/>
<line x1="710.00" y1="631.25" x2="620.50" y2="701.75" stroke="#4c5250" stroke-width="2.1" stroke-linecap="round"/>
<ellipse cx="620.50" cy="701.75" rx="4.1" ry="3.5" fill="#4c5250"/>
<line x1="591.25" y1="672.50" x2="599.25" y2="720.00" stroke="#4c5250" stroke-width="2.1" stroke-linecap="round"/>
<ellipse cx="599.25" cy="720.00" rx="4.1" ry="3.5" fill="#4c5250"/>
<line x1="668.75" y1="702.50" x2="635.00" y2="723.75" stroke="#4c5250" stroke-width="2.1" stroke-linecap="round"/>
<ellipse cx="635.00" cy="723.75" rx="4.1" ry="3.5" fill="#4c5250"/>
<line x1="756.25" y1="691.25" x2="753.75" y2="728.00" stroke="#4c5250" stroke-width="2.1" stroke-linecap="round"/>
<ellipse cx="753.75" cy="728.00" rx="4.1" ry="3.5" fill="#4c5250"/>
<line x1="842.50" y1="666.25" x2="812.50" y2="690.00" stroke="#4c5250" stroke-width="2.1" stroke-linecap="round"/>
<ellipse cx="812.50" cy="690.00" rx="4.1" ry="3.5" fill="#4c5250"/>
<line x1="984.50" y1="471.75" x2="1051.25" y2="493.75" stroke="#4c5250" stroke-width="2.1" stroke-linecap="round"/>
<ellipse cx="1051.25" cy="493.75" rx="4.1" ry="3.5" fill="#4c5250"/>
<line x1="993.25" y1="529.50" x2="1064.50" y2="507.50" stroke="#4c5250" stroke-width="2.1" stroke-linecap="round"/>
<ellipse cx="1064.50" cy="507.50" rx="4.1" ry="3.5" fill="#4c5250"/>
<text x="632.50" y="492.00" font-family='"Liberation Serif", serif' font-size="16.9" font-weight="normal" text-anchor="middle" fill="#111" >AF1</text>
<text x="741.00" y="526.25" font-family='"Liberation Serif", serif' font-size="16.9" font-weight="normal" text-anchor="middle" fill="#111" >EL</text>
<text x="746.60" y="587.00" font-family='"Liberation Serif", serif' font-size="16.9" font-weight="normal" text-anchor="middle" fill="#111" >HB1</text>
<text x="584.40" y="630.00" font-family='"Liberation Serif", serif' font-size="16.9" font-weight="normal" text-anchor="middle" fill="#111" >SD1</text>
<text x="711.25" y="685.75" font-family='"Liberation Serif", serif' font-size="16.9" font-weight="normal" text-anchor="middle" fill="#111" >BB1</text>
<text x="778.10" y="669.50" font-family='"Liberation Serif", serif' font-size="16.9" font-weight="normal" text-anchor="middle" fill="#111" >SD2</text>
<text x="864.40" y="642.50" font-family='"Liberation Serif", serif' font-size="16.9" font-weight="normal" text-anchor="middle" fill="#111" >BB2</text>
<text x="980.00" y="452.00" font-family='"Liberation Serif", serif' font-size="16.9" font-weight="normal" text-anchor="middle" fill="#111" >HB2</text>
<text x="1106.50" y="492.50" font-family='"Liberation Serif", serif' font-size="16.9" font-weight="normal" text-anchor="middle" fill="#111" >RA</text>
<text x="992.25" y="565.50" font-family='"Liberation Serif", serif' font-size="16.9" font-weight="normal" text-anchor="middle" fill="#111" >AF2</text>
<ellipse cx="612.50" cy="512.50" rx="19.35" ry="16.85" fill="#fff3d6" opacity="0.7"/>
<path d="M612.50,512.50 L630.97,515.32 A18.75,16.25 0 0 0 594.23,508.84 Z" fill="#fea40b" stroke="#fea40b" stroke-width="0.4" stroke-linejoin="round"/>
<path d="M612.50,512.50 L594.23,508.84 A18.75,16.25 0 0 0 619.37,527.62 Z" fill="#0a70ec" stroke="#0a70ec" stroke-width="0.4" stroke-linejoin="round"/>
<path d="M612.50,512.50 L619.37,527.62 A18.75,16.25 0 0 0 630.61,516.71 Z" fill="#e64d05" stroke="#e64d05" stroke-width="0.4" stroke-linejoin="round"/>
<path d="M612.50,512.50 L630.61,516.71 A18.75,16.25 0 0 0 630.97,515.32 Z" fill="#fdf70c" stroke="#fdf70c" stroke-width="0.4" stroke-linejoin="round"/>
<ellipse cx="713.50" cy="537.50" rx="19.10" ry="16.35" fill="#fff3d6" opacity="0.7"/>
<path d="M713.50,537.50 L731.93,536.13 A18.50,15.75 0 0 0 713.50,521.75 Z" fill="#fea40b" stroke="#fea40b" stroke-width="0.4" stroke-linejoin="round"/>
<path d="M713.50,537.50 L713.50,521.75 A18.50,15.75 0 1 0 727.67,547.62 Z" fill="#0a70ec" stroke="#0a70ec" stroke-width="0.4" stroke-linejoin="round"/>
<path d="M713.50,537.50 L727.67,547.62 A18.50,15.75 0 0 0 730.27,544.16 Z" fill="#e64d05" stroke="#e64d05" stroke-width="0.4" stroke-linejoin="round"/>
<path d="M713.50,537.50 L730.27,544.16 A18.50,15.75 0 0 0 731.93,536.13 Z" fill="#fdf70c" stroke="#fdf70c" stroke-width="0.4" stroke-linejoin="round"/>
<ellipse cx="735.60" cy="615.60" rx="31.20" ry="26.20" fill="#fff3d6" opacity="0.7"/>
<path d="M735.60,615.60 L766.20,615.15 A30.60,25.60 0 0 0 746.07,591.54 Z" fill="#fea40b" stroke="#fea40b" stroke-width="0.4" stroke-linejoin="round"/>
<path d="M735.60,615.60 L746.07,591.54 A30.60,25.60 0 1 0 765.01,622.66 Z" fill="#0a70ec" stroke="#0a70ec" stroke-width="0.4" stroke-linejoin="round"/>
<path d="M735.60,615.60 L765.01,622.66 A30.60,25.60 0 0 0 766.20,615.15 Z" fill="#e64d05" stroke="#e64d05" stroke-width="0.4" stroke-linejoin="round"/>
<ellipse cx="588.75" cy="651.60" rx="25.10" ry="21.50" fill="#fff3d6" opacity="0.7"/>
<path d="M588.75,651.60 L613.24,652.33 A24.50,20.90 0 0 0 584.08,631.08 Z" fill="#fea40b" stroke="#fea40b" stroke-width="0.4" stroke-linejoin="round"/>
<path d="M588.75,651.60 L584.08,631.08 A24.50,20.90 0 1 0 599.49,670.38 Z" fill="#0a70ec" stroke="#0a70ec" stroke-width="0.4" stroke-linejoin="round"/>
<path d="M588.75,651.60 L599.49,670.38 A24.50,20.90 0 0 0 612.42,657.01 Z" fill="#e64d05" stroke="#e64d05" stroke-width="0.4" stroke-linejoin="round"/>
<path d="M588.75,651.60 L612.42,657.01 A24.50,20.90 0 0 0 613.24,652.33 Z" fill="#fdf70c" stroke="#fdf70c" stroke-width="0.4" stroke-linejoin="round"/>
<ellipse cx="678.60" cy="692.90" rx="15.00" ry="14.00" fill="#fff3d6" opacity="0.7"/>
<path d="M678.60,692.90 L692.82,695.00 A14.40,13.40 0 0 0 665.16,688.10 Z" fill="#fea40b" stroke="#fea40b" stroke-width="0.4" stroke-linejoin="round"/>
<path d="M678.60,692.90 L665.16,688.10 A14.40,13.40 0 0 0 688.78,702.38 Z" fill="#0a70ec" stroke="#0a70ec" stroke-width="0.4" stroke-linejoin="round"/>
<path d="M678.60,692.90 L688.78,702.38 A14.40,13.40 0 0 0 692.13,697.48 Z" fill="#e64d05" stroke="#e64d05" stroke-width="0.4" stroke-linejoin="round"/>
<path d="M678.60,692.90 L692.13,697.48 A14.40,13.40 0 0 0 692.82,695.00 Z" fill="#fdf70c" stroke="#fdf70c" stroke-width="0.4" stroke-linejoin="round"/>
<ellipse cx="758.10" cy="679.90" rx="15.00" ry="12.50" fill="#fff3d6" opacity="0.7"/>
<path d="M758.10,679.90 L772.45,680.94 A14.40,11.90 0 1 0 744.19,682.98 Z" fill="#fea40b" stroke="#fea40b" stroke-width="0.4" stroke-linejoin="round"/>
<path d="M758.10,679.90 L744.19,682.98 A14.40,11.90 0 0 0 768.80,687.86 Z" fill="#0a70ec" stroke="#0a70ec" stroke-width="0.4" stroke-linejoin="round"/>
<path d="M758.10,679.90 L768.80,687.86 A14.40,11.90 0 0 0 770.57,685.85 Z" fill="#e64d05" stroke="#e64d05" stroke-width="0.4" stroke-linejoin="round"/>
<path d="M758.10,679.90 L770.57,685.85 A14.40,11.90 0 0 0 772.45,680.94 Z" fill="#fdf70c" stroke="#fdf70c" stroke-width="0.4" stroke-linejoin="round"/>
<ellipse cx="855.90" cy="655.75" rx="17.70" ry="14.35" fill="#fff3d6" opacity="0.7"/>
<path d="M855.90,655.75 L872.42,659.31 A17.10,13.75 0 0 0 848.94,643.19 Z" fill="#fea40b" stroke="#fea40b" stroke-width="0.4" stroke-linejoin="round"/>
<path d="M855.90,655.75 L848.94,643.19 A17.10,13.75 0 1 0 863.93,667.89 Z" fill="#0a70ec" stroke="#0a70ec" stroke-width="0.4" stroke-linejoin="round"/>
<path d="M855.90,655.75 L863.93,667.89 A17.10,13.75 0 0 0 871.40,661.56 Z" fill="#e64d05" stroke="#e64d05" stroke-width="0.4" stroke-linejoin="round"/>
<path d="M855.90,655.75 L871.40,661.56 A17.10,13.75 0 0 0 872.42,659.31 Z" fill="#fdf70c" stroke="#fdf70c" stroke-width="0.4" stroke-linejoin="round"/>
<ellipse cx="966.90" cy="470.10" rx="18.20" ry="16.20" fill="#fff3d6" opacity="0.7"/>
<path d="M966.90,470.10 L984.23,472.81 A17.60,15.60 0 0 0 958.64,456.33 Z" fill="#fea40b" stroke="#fea40b" stroke-width="0.4" stroke-linejoin="round"/>
<path d="M966.90,470.10 L958.64,456.33 A17.60,15.60 0 1 0 982.85,476.69 Z" fill="#0a70ec" stroke="#0a70ec" stroke-width="0.4" stroke-linejoin="round"/>
<path d="M966.90,470.10 L982.85,476.69 A17.60,15.60 0 0 0 983.90,474.14 Z" fill="#e64d05" stroke="#e64d05" stroke-width="0.4" stroke-linejoin="round"/>
<path d="M966.90,470.10 L983.90,474.14 A17.60,15.60 0 0 0 984.23,472.81 Z" fill="#fdf70c" stroke="#fdf70c" stroke-width="0.4" stroke-linejoin="round"/>
<ellipse cx="1097.50" cy="455.50" rx="15.10" ry="13.10" fill="#fff3d6" opacity="0.7"/>
<path d="M1097.50,455.50 L1111.68,458.10 A14.50,12.50 0 0 0 1084.70,449.63 Z" fill="#fea40b" stroke="#fea40b" stroke-width="0.4" stroke-linejoin="round"/>
<path d="M1097.50,455.50 L1084.70,449.63 A14.50,12.50 0 1 0 1111.04,459.98 Z" fill="#0a70ec" stroke="#0a70ec" stroke-width="0.4" stroke-linejoin="round"/>
<path d="M1097.50,455.50 L1111.04,459.98 A14.50,12.50 0 0 0 1111.68,458.10 Z" fill="#fdf70c" stroke="#fdf70c" stroke-width="0.4" stroke-linejoin="round"/>
<ellipse cx="980.40" cy="531.90" rx="13.50" ry="11.70" fill="#fff3d6" opacity="0.7"/>
<path d="M980.40,531.90 L993.30,531.90 A12.90,11.10 0 0 0 967.50,531.90 Z" fill="#fea40b" stroke="#fea40b" stroke-width="0.4" stroke-linejoin="round"/>
<path d="M980.40,531.90 L967.50,531.90 A12.90,11.10 0 0 0 992.09,536.59 Z" fill="#0a70ec" stroke="#0a70ec" stroke-width="0.4" stroke-linejoin="round"/>
<path d="M980.40,531.90 L992.09,536.59 A12.90,11.10 0 0 0 993.30,531.90 Z" fill="#fdf70c" stroke="#fdf70c" stroke-width="0.4" stroke-linejoin="round"/>
<text x="574.4" y="433" font-family='"Liberation Sans", sans-serif' font-size="11.5" font-weight="bold" text-anchor="middle" fill="#111" transform="translate(574.4,433) scale(1.1,1.05) translate(-574.4,-433)">N</text>
<polygon points="574.4,437 565.4,462.5 574.4,453.0" fill="#111"/>
<polygon points="574.4,437 582.9,462.5 574.4,453.0" fill="none" stroke="#111" stroke-width="1.3" stroke-linejoin="round"/>
<rect x="1040" y="685" width="22.5" height="9.5" fill="#0a70ec" stroke="#e8e8d8" stroke-width="0.6"/>
<text x="1068.50" y="691.25" font-family='"Liberation Serif", serif' font-size="13.9" font-weight="normal" text-anchor="start" fill="#111" >Fragment</text>
<rect x="1040" y="702.5" width="22.5" height="9.5" fill="#fea40b" stroke="#e8e8d8" stroke-width="0.6"/>
<text x="1068.50" y="709.25" font-family='"Liberation Serif", serif' font-size="13.9" font-weight="normal" text-anchor="start" fill="#111" >Finer</text>
<rect x="1040" y="719.5" width="22.5" height="9.3" fill="#e64d05" stroke="#e8e8d8" stroke-width="0.6"/>
<text x="1068.50" y="727.00" font-family='"Liberation Serif", serif' font-size="13.9" font-weight="normal" text-anchor="start" fill="#111" >Pellet</text>
<rect x="1040" y="734.5" width="22.5" height="10" fill="#fdf70c" stroke="#e8e8d8" stroke-width="0.6"/>
<text x="1068.50" y="745.00" font-family='"Liberation Serif", serif' font-size="13.9" font-weight="normal" text-anchor="start" fill="#111" >Film</text>
<ellipse cx="893.75" cy="733.75" rx="11.5" ry="11.5" fill="#fff" stroke="#222" stroke-width="2.4"/>
<text x="916.00" y="742.50" font-family='"Liberation Serif", serif' font-size="16" font-weight="normal" text-anchor="start" fill="#111" >1990 items/kg d.w.</text>
<line x1="546.50" y1="439.70" x2="550.75" y2="439.70" stroke="#888" stroke-width="1.6" />
<line x1="546.50" y1="525.80" x2="550.75" y2="525.80" stroke="#888" stroke-width="1.6" />
<line x1="546.50" y1="611.50" x2="550.75" y2="611.50" stroke="#888" stroke-width="1.6" />
<line x1="546.50" y1="697.30" x2="550.75" y2="697.30" stroke="#888" stroke-width="1.6" />
<text x="544.60" y="445.80" font-family='"Liberation Serif", serif' font-size="18.3" font-weight="normal" text-anchor="end" fill="#111" >36°20′ N</text>
<text x="541.20" y="534.20" font-family='"Liberation Serif", serif' font-size="18.3" font-weight="normal" text-anchor="end" fill="#111" >36°15′ N</text>
<text x="540.70" y="622.80" font-family='"Liberation Serif", serif' font-size="18.3" font-weight="normal" text-anchor="end" fill="#111" >36°10′ N</text>
<text x="543.70" y="708.00" font-family='"Liberation Serif", serif' font-size="18.3" font-weight="normal" text-anchor="end" fill="#111" >36°05′ N</text>
<line x1="644.50" y1="750.50" x2="644.50" y2="755.00" stroke="#888" stroke-width="1.6" />
<line x1="744.50" y1="750.50" x2="744.50" y2="755.00" stroke="#888" stroke-width="1.6" />
<line x1="843.00" y1="750.50" x2="843.00" y2="755.00" stroke="#888" stroke-width="1.6" />
<line x1="942.50" y1="750.50" x2="942.50" y2="755.00" stroke="#888" stroke-width="1.6" />
<line x1="1042.50" y1="750.50" x2="1042.50" y2="755.00" stroke="#888" stroke-width="1.6" />
<text x="633.75" y="777.00" font-family='"Liberation Serif", serif' font-size="18.1" font-weight="normal" text-anchor="middle" fill="#111" >120°20′ E</text>
<text x="746.60" y="777.00" font-family='"Liberation Serif", serif' font-size="18.1" font-weight="normal" text-anchor="middle" fill="#111" >120°25′ E</text>
<text x="853.00" y="777.00" font-family='"Liberation Serif", serif' font-size="18.1" font-weight="normal" text-anchor="middle" fill="#111" >120°30′ E</text>
<text x="953.75" y="777.00" font-family='"Liberation Serif", serif' font-size="18.1" font-weight="normal" text-anchor="middle" fill="#111" >120°35′ E</text>
<text x="1059.10" y="777.00" font-family='"Liberation Serif", serif' font-size="18.1" font-weight="normal" text-anchor="middle" fill="#111" >120°40′ E</text>
</svg></body></html>
